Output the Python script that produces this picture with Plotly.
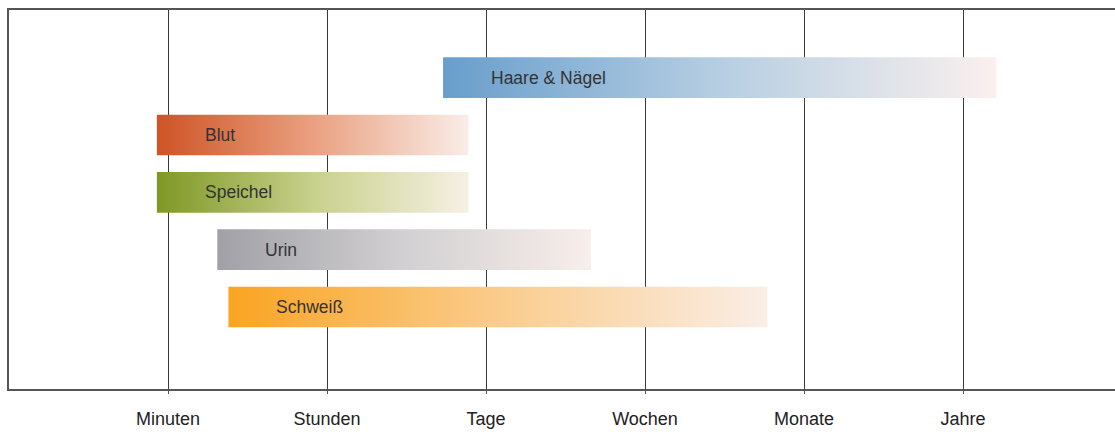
import plotly.graph_objects as go

# Detection windows per sample type on an ordinal time scale
# 1 = Minuten, 2 = Stunden, 3 = Tage, 4 = Wochen, 5 = Monate, 6 = Jahre
samples = ["Haare & Nägel", "Blut", "Speichel", "Urin", "Schweiß"]
start = [2.73, 0.93, 0.93, 1.31, 1.38]
end = [6.21, 2.89, 2.89, 3.66, 4.77]
rows = [4, 3, 2, 1, 0]

tick_vals = [1, 2, 3, 4, 5, 6]
tick_text = ["Minuten", "Stunden", "Tage", "Wochen", "Monate", "Jahre"]

# Gradient colour stops (left -> right) for each bar
gradients = [
    [[0, "rgb(104,158,204)"], [0.5, "rgb(182,206,226)"], [1, "rgb(250,240,238)"]],
    [[0, "rgb(206,84,38)"], [0.5, "rgb(234,160,128)"], [1, "rgb(250,237,232)"]],
    [[0, "rgb(126,152,36)"], [0.5, "rgb(200,208,140)"], [1, "rgb(246,240,228)"]],
    [[0, "rgb(160,160,166)"], [0.5, "rgb(210,208,210)"], [1, "rgb(248,238,235)"]],
    [[0, "rgb(250,164,34)"], [0.5, "rgb(250,204,140)"], [1, "rgb(250,238,230)"]],
]

half = 0.355
label_font = dict(family="Liberation Sans, Arial, sans-serif", size=17.5, color="#333333")

fig = go.Figure()
for name, s, e, r, cs in zip(samples, start, end, rows, gradients):
    fig.add_trace(go.Scatter(
        x=[s, e, e, s, s],
        y=[r - half, r - half, r + half, r + half, r - half],
        mode="lines",
        line=dict(width=0),
        fill="toself",
        fillgradient=dict(type="horizontal", colorscale=cs),
        hoverinfo="skip",
        showlegend=False,
    ))
    fig.add_annotation(
        x=s, y=r, xref="x", yref="y",
        text=name, showarrow=False,
        xanchor="left", yanchor="middle", xshift=46,
        font=label_font,
    )

fig.update_layout(
    width=1115, height=432,
    margin=dict(l=9, r=0, t=10, b=43),
    paper_bgcolor="white",
    plot_bgcolor="white",
    showlegend=False,
    xaxis=dict(
        range=[0, 6.956],
        tickvals=tick_vals,
        ticktext=tick_text,
        showgrid=True,
        gridcolor="#3a3a3a",
        gridwidth=1,
        zeroline=False,
        showline=True,
        linecolor="#555555",
        linewidth=2,
        mirror=True,
        ticks="outside",
        ticklen=3,
        tickcolor="#555555",
        ticklabelstandoff=9,
        tickfont=dict(family="Liberation Sans, Arial, sans-serif", size=18, color="#222222"),
        fixedrange=True,
    ),
    yaxis=dict(
        range=[-1.43, 5.18],
        showgrid=False,
        zeroline=False,
        showticklabels=False,
        ticks="",
        showline=True,
        linecolor="#555555",
        linewidth=2,
        mirror=False,
        fixedrange=True,
    ),
)

fig.write_html("out.html")
